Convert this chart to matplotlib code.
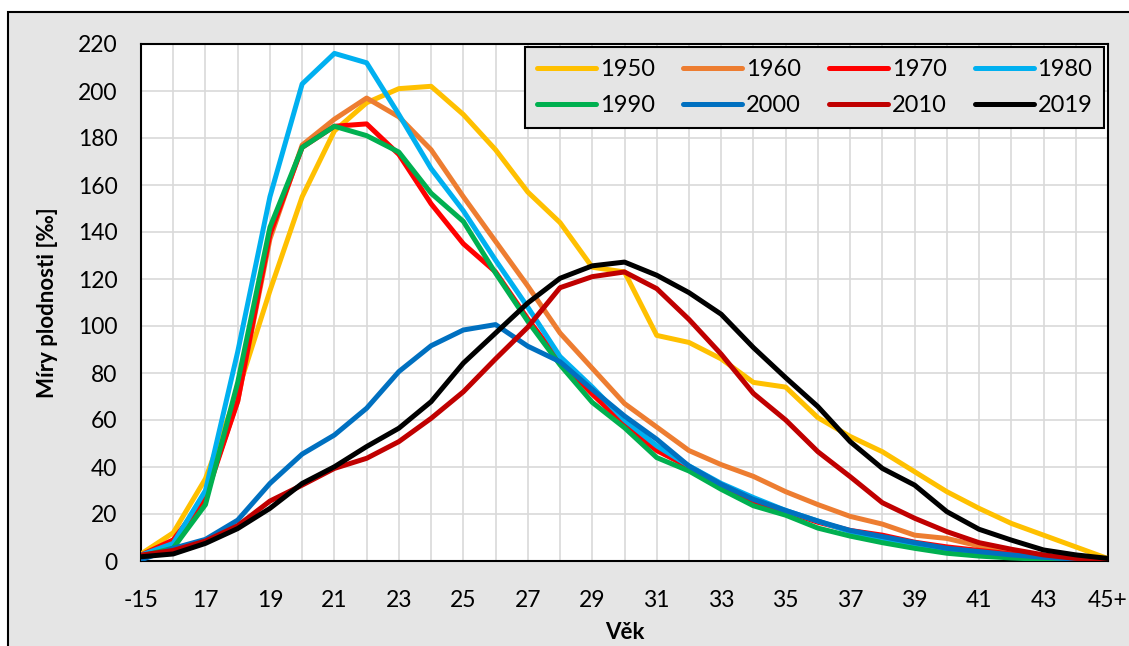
import matplotlib
matplotlib.use("Agg")
import matplotlib.pyplot as plt
from matplotlib.patches import Rectangle

ages = ["-15"] + [str(a) for a in range(16, 45)] + ["45+"]

years = ["1950", "1960", "1970", "1980", "1990", "2000", "2010", "2019"]
colors = ["#FFC000", "#ED7D31", "#FF0000", "#00B0F0", "#00B050", "#0070C0", "#C00000", "#000000"]

r1950 = [3, 12, 35, 72, 115, 155, 183, 195, 201, 202, 190, 175, 157, 144, 125, 123,
         96, 93, 86, 76, 74, 61, 53, 46.5, 38, 29.5, 22.4, 16, 11, 6, 1]
r1960 = [2.5, 8, 28, 68, 137, 177, 188, 197, 189, 175, 155, 136, 117, 97, 82, 67,
         57, 47, 41, 36, 29.5, 24, 19, 15.7, 11, 9.6, 6.4, 4, 2.1, 1, 0.3]
r1970 = [2.5, 9, 27, 68, 139, 176, 185, 186, 173, 152, 135, 123, 103, 85, 71, 58,
         47, 40, 32, 25, 21, 16.5, 13, 11, 8, 6, 4.5, 3, 1.8, 1, 0.3]
r1980 = [2.5, 7.5, 30, 89, 155, 203, 216, 212, 190, 167, 149, 128, 108, 87, 74, 60,
         49, 40.5, 33, 27, 21.5, 17, 12.5, 9.5, 7, 4.5, 3, 1.8, 1, 0.5, 0.2]
r1990 = [2, 5.5, 24, 76, 142, 176, 185, 181, 174, 156.5, 144.5, 122.5, 102, 83.5, 67.5, 56.7,
         44, 38.3, 30.5, 23.5, 19.5, 14, 10.6, 7.8, 5.4, 3.3, 2.1, 1.3, 0.7, 0.3, 0.1]
r2000 = [0.5, 5.4, 9.2, 17.4, 33, 45.5, 53.6, 65, 80.6, 91.6, 98.3, 100.6, 91.4, 84.8, 73, 61.7,
         51.8, 40.4, 32.6, 26.2, 21.5, 17, 13, 10.4, 7.8, 5.4, 4, 2.6, 1.6, 0.8, 0.2]
r2010 = [2.5, 4.5, 8.5, 15, 25.5, 32.3, 39.4, 43.7, 50.8, 60.7, 72, 86, 99.5, 116.3, 121, 123,
         115.9, 102.8, 88, 71.3, 60, 46.5, 35.9, 24.8, 18.2, 12.5, 7.8, 5, 2.6, 1.1, 0.2]
r2019 = [1.8, 3, 7.5, 13.8, 22.4, 33, 40.1, 48.7, 56.5, 67.8, 84.2, 97, 109.8, 120.3, 125.6, 127.2,
         121.6, 114.2, 105, 90.8, 78, 65.7, 50.8, 39.4, 32.3, 21, 13.5, 8.9, 4.7, 2.6, 1.1]

series = [r1950, r1960, r1970, r1980, r1990, r2000, r2010, r2019]

plt.rcParams['font.family'] = ['Lato', 'DejaVu Sans']
bg = '#e5e5e5'

fig = plt.figure(figsize=(11.29, 6.46), dpi=100, facecolor='white')
# outer chart frame (drawn behind the axes)
frame = Rectangle((8 / 1129, -0.1), 1.2, 1 - 12 / 646 + 0.1,
                  transform=fig.transFigure, facecolor=bg,
                  edgecolor='black', linewidth=1.5, zorder=-5)
fig.patches.append(frame)

ax = fig.add_axes([141 / 1129, 1 - 561 / 646, (1108 - 141) / 1129, (561 - 44) / 646])
ax.set_zorder(1)
ax.set_facecolor('white')

x = list(range(len(ages)))
lines = []
for vals, yr, c in zip(series, years, colors):
    ln, = ax.plot(x, vals, color=c, lw=3.6, label=yr, solid_joinstyle='round',
                  solid_capstyle='round', zorder=3)
    lines.append(ln)

ax.set_xlim(0, len(ages) - 1)
ax.set_ylim(0, 220)
ax.set_yticks(range(0, 221, 20))
ax.set_xticks(x)
ax.set_xticklabels([a if i % 2 == 0 else "" for i, a in enumerate(ages)])
ax.grid(True, color='#d9d9d9', lw=1.2, zorder=1)
ax.tick_params(axis='both', length=0, labelsize=16.5)
ax.tick_params(axis='x', pad=21)
ax.tick_params(axis='y', pad=17)
for s in ax.spines.values():
    s.set_color('black')
    s.set_linewidth(1.5)

ax.set_xlabel("Věk", fontsize=16, fontweight='bold', labelpad=8)
ax.set_ylabel("Míry plodnosti [‰]", fontsize=16, fontweight='bold', labelpad=14)

# legend filled row by row (matplotlib fills column by column)
order = [0, 4, 1, 5, 2, 6, 3, 7]
leg = ax.legend([lines[i] for i in order], [years[i] for i in order],
                loc='upper right', bbox_to_anchor=(0.996, 0.994), ncol=4,
                fontsize=17, frameon=True, fancybox=False, borderaxespad=0,
                handlelength=2.5, handletextpad=0.15, columnspacing=1.2,
                labelspacing=0.65, borderpad=0.5)
leg.get_frame().set_facecolor(bg)
leg.get_frame().set_edgecolor('black')
leg.get_frame().set_linewidth(1.5)
leg.get_frame().set_alpha(1)

fig.savefig("out.png", dpi=100, facecolor=fig.get_facecolor())
